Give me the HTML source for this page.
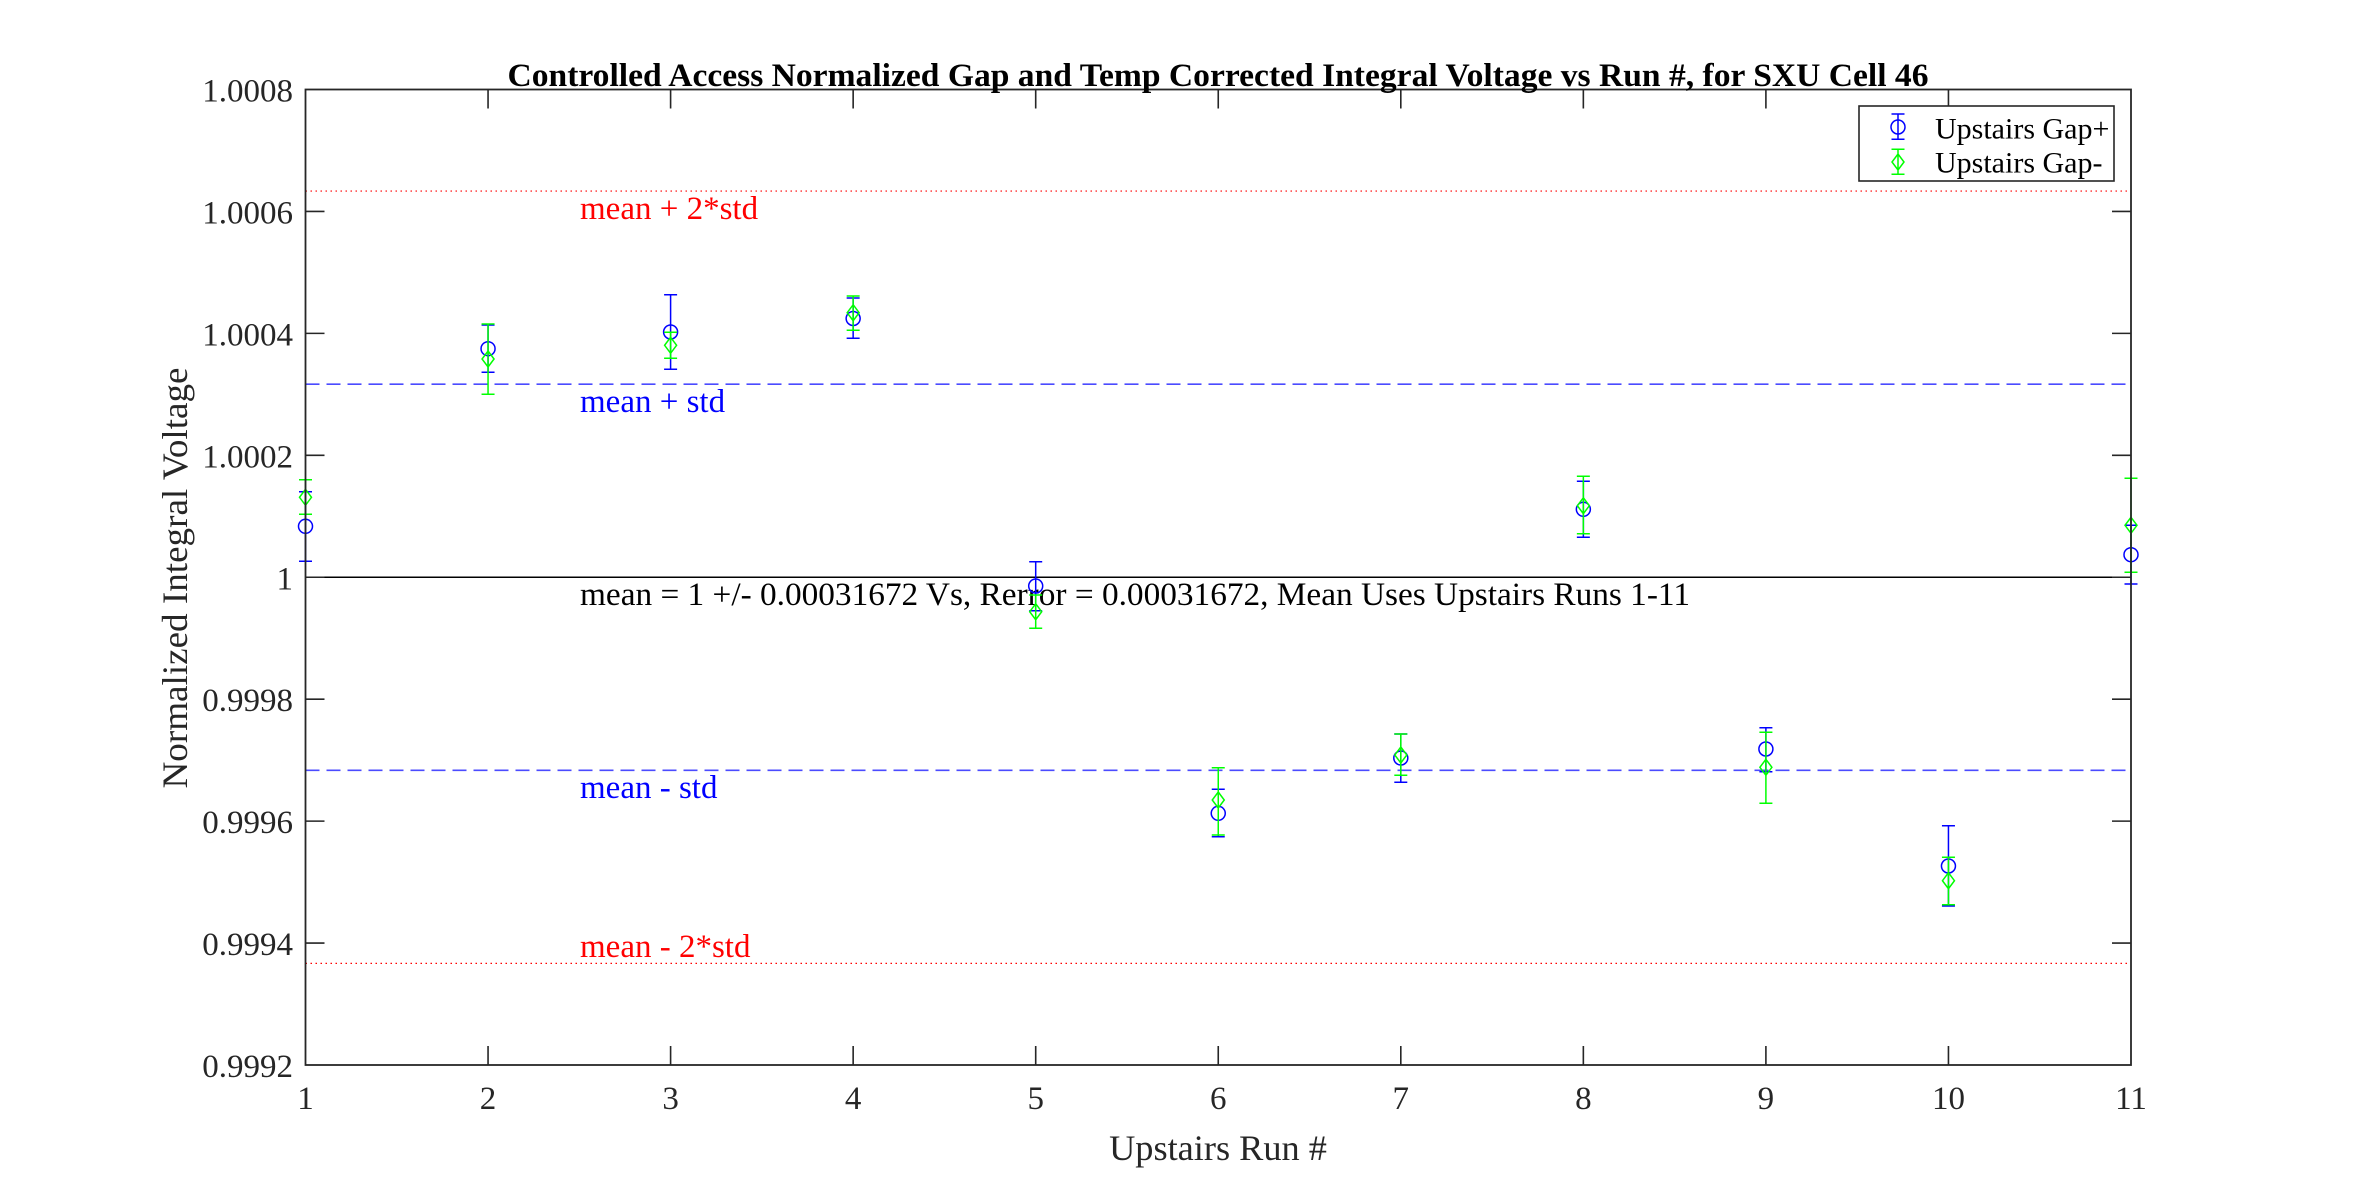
<!DOCTYPE html>
<html><head><meta charset="utf-8"><style>
html,body{margin:0;padding:0;background:#fff;}
svg{display:block;}
text{font-family:"Liberation Serif","Times New Roman",serif;}
</style></head><body>
<svg width="2356" height="1199" viewBox="0 0 2356 1199" xmlns="http://www.w3.org/2000/svg">
<rect width="2356" height="1199" fill="#fff"/>
<!-- reference lines -->
<line x1="305.5" y1="191.05" x2="2131" y2="191.05" stroke="#ff0000" stroke-width="1.2" stroke-dasharray="1.5 3.5"/>
<line x1="305.5" y1="384.2" x2="2131" y2="384.2" stroke="#4b4bff" stroke-width="1.6" stroke-dasharray="14 7"/>
<line x1="305.5" y1="577.25" x2="2131" y2="577.25" stroke="#000" stroke-width="1.6"/>
<line x1="305.5" y1="770.3" x2="2131" y2="770.3" stroke="#4b4bff" stroke-width="1.6" stroke-dasharray="14 7"/>
<line x1="305.5" y1="963.4" x2="2131" y2="963.4" stroke="#ff0000" stroke-width="1.2" stroke-dasharray="1.5 3.5"/>
<!-- annotations -->
<g font-size="33">
<text x="580" y="219" fill="#ff0000">mean + 2*std</text>
<text x="580" y="412" fill="#0000ff">mean + std</text>
<text x="580" y="605" fill="#000" textLength="1110" lengthAdjust="spacingAndGlyphs">mean = 1 +/- 0.00031672 Vs, Rerror = 0.00031672, Mean Uses Upstairs Runs 1-11</text>
<text x="580" y="798" fill="#0000ff">mean - std</text>
<text x="580" y="957" fill="#ff0000">mean - 2*std</text>
</g>
<!-- blue series -->
<g stroke="#0000ff" stroke-width="1.5" fill="none">
<path d="M305.5 491.7V561.3M299 491.7h13M299 561.3h13"/><circle cx="305.5" cy="526.3" r="7"/>
<path d="M488.05 325V372.3M481.55 325h13M481.55 372.3h13"/><circle cx="488.05" cy="348.7" r="7"/>
<path d="M670.6 294.7V369.3M664.1 294.7h13M664.1 369.3h13"/><circle cx="670.6" cy="332" r="7"/>
<path d="M853.15 298V338.3M846.65 298h13M846.65 338.3h13"/><circle cx="853.15" cy="318.5" r="7"/>
<path d="M1035.7 561.7V610.7M1029.2 561.7h13M1029.2 610.7h13"/><circle cx="1035.7" cy="586" r="7"/>
<path d="M1218.25 789.3V836.7M1211.75 789.3h13M1211.75 836.7h13"/><circle cx="1218.25" cy="813.3" r="7"/>
<path d="M1400.8 734V782.3M1394.3 734h13M1394.3 782.3h13"/><circle cx="1400.8" cy="758" r="7"/>
<path d="M1583.35 481.3V537.3M1576.85 481.3h13M1576.85 537.3h13"/><circle cx="1583.35" cy="509.3" r="7"/>
<path d="M1765.9 727.7V771.7M1759.4 727.7h13M1759.4 771.7h13"/><circle cx="1765.9" cy="749" r="7"/>
<path d="M1948.45 825.7V906M1941.95 825.7h13M1941.95 906h13"/><circle cx="1948.45" cy="866" r="7"/>
<path d="M2131 525.3V584M2124.5 525.3h13M2124.5 584h13"/><circle cx="2131" cy="554.7" r="7"/>
</g>
<!-- green series -->
<g stroke="#00ff00" stroke-width="1.5" fill="none">
<path d="M305.5 479.7V514.3M299 479.7h13M299 514.3h13M305.5 489.3l6 8l-6 8l-6 -8z"/>
<path d="M488.05 324V394.3M481.55 324h13M481.55 394.3h13M488.05 351l6 8l-6 8l-6 -8z"/>
<path d="M670.6 332.3V358.3M664.1 332.3h13M664.1 358.3h13M670.6 337.3l6 8l-6 8l-6 -8z"/>
<path d="M853.15 296V330.3M846.65 296h13M846.65 330.3h13M853.15 304.7l6 8l-6 8l-6 -8z"/>
<path d="M1035.7 595V628.3M1029.2 595h13M1029.2 628.3h13M1035.7 603.7l6 8l-6 8l-6 -8z"/>
<path d="M1218.25 767.7V835M1211.75 767.7h13M1211.75 835h13M1218.25 792l6 8l-6 8l-6 -8z"/>
<path d="M1400.8 734V775.3M1394.3 734h13M1394.3 775.3h13M1400.8 747l6 8l-6 8l-6 -8z"/>
<path d="M1583.35 476.3V533.7M1576.85 476.3h13M1576.85 533.7h13M1583.35 497.7l6 8l-6 8l-6 -8z"/>
<path d="M1765.9 732.3V803.3M1759.4 732.3h13M1759.4 803.3h13M1765.9 759.3l6 8l-6 8l-6 -8z"/>
<path d="M1948.45 857.3V904.7M1941.95 857.3h13M1941.95 904.7h13M1948.45 872.7l6 8l-6 8l-6 -8z"/>
<path d="M2131 478.3V572.3M2124.5 478.3h13M2124.5 572.3h13M2131 517.3l6 8l-6 8l-6 -8z"/>
</g>
<!-- axes box -->
<rect x="305.5" y="89.5" width="1825.5" height="975.5" fill="none" stroke="#262626" stroke-width="1.8"/>
<!-- ticks -->
<g stroke="#262626" stroke-width="1.6">
<path d="M488.05 1065v-19M670.6 1065v-19M853.15 1065v-19M1035.7 1065v-19M1218.25 1065v-19M1400.8 1065v-19M1583.35 1065v-19M1765.9 1065v-19M1948.45 1065v-19"/>
<path d="M488.05 89.5v19M670.6 89.5v19M853.15 89.5v19M1035.7 89.5v19M1218.25 89.5v19M1400.8 89.5v19M1583.35 89.5v19M1765.9 89.5v19M1948.45 89.5v19"/>
<path d="M305.5 211.44h19M305.5 333.38h19M305.5 455.31h19M305.5 577.25h19M305.5 699.19h19M305.5 821.13h19M305.5 943.06h19"/>
<path d="M2131 211.44h-19M2131 333.38h-19M2131 455.31h-19M2131 577.25h-19M2131 699.19h-19M2131 821.13h-19M2131 943.06h-19"/>
</g>
<!-- tick labels -->
<g font-size="33" fill="#262626" text-anchor="end">
<text x="293" y="101.5">1.0008</text>
<text x="293" y="223.4">1.0006</text>
<text x="293" y="345.4">1.0004</text>
<text x="293" y="467.3">1.0002</text>
<text x="293" y="589.3">1</text>
<text x="293" y="711.2">0.9998</text>
<text x="293" y="833.1">0.9996</text>
<text x="293" y="955.1">0.9994</text>
<text x="293" y="1077">0.9992</text>
</g>
<g font-size="33" fill="#262626" text-anchor="middle">
<text x="305.5" y="1109">1</text>
<text x="488.05" y="1109">2</text>
<text x="670.6" y="1109">3</text>
<text x="853.15" y="1109">4</text>
<text x="1035.7" y="1109">5</text>
<text x="1218.25" y="1109">6</text>
<text x="1400.8" y="1109">7</text>
<text x="1583.35" y="1109">8</text>
<text x="1765.9" y="1109">9</text>
<text x="1948.45" y="1109">10</text>
<text x="2131" y="1109">11</text>
</g>
<!-- axis labels -->
<text x="1218" y="1160" font-size="36.3" fill="#262626" text-anchor="middle">Upstairs Run #</text>
<text transform="translate(187,578) rotate(-90)" font-size="36.3" fill="#262626" text-anchor="middle" textLength="421" lengthAdjust="spacingAndGlyphs">Normalized Integral Voltage</text>
<!-- title -->
<text x="1218" y="86" font-size="33" font-weight="bold" fill="#000" text-anchor="middle" textLength="1421" lengthAdjust="spacingAndGlyphs">Controlled Access Normalized Gap and Temp Corrected Integral Voltage vs Run #, for SXU Cell 46</text>
<!-- legend -->
<rect x="1859" y="106" width="255" height="75" fill="#fff" stroke="#262626" stroke-width="1.6"/>
<g stroke="#0000ff" stroke-width="1.5" fill="none">
<path d="M1898 114V139.3M1891.5 114h13M1891.5 139.3h13"/><circle cx="1898" cy="127" r="7"/>
</g>
<g stroke="#00ff00" stroke-width="1.5" fill="none">
<path d="M1898 149.3V174.3M1891.5 149.3h13M1891.5 174.3h13M1898 154l6 8l-6 8l-6 -8z"/>
</g>
<g font-size="30" fill="#000">
<text x="1935" y="138.3">Upstairs Gap+</text>
<text x="1935" y="172.5">Upstairs Gap-</text>
</g>
</svg>
</body></html>
